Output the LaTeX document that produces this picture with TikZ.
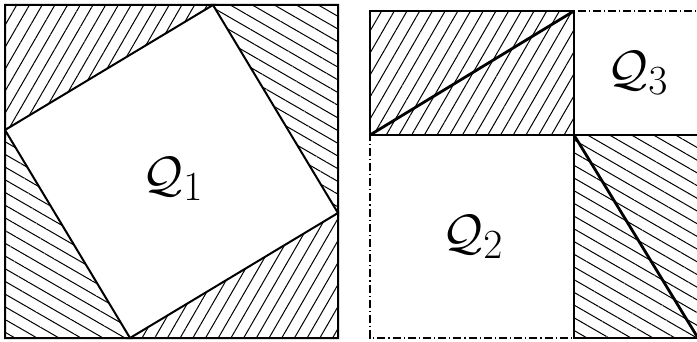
\documentclass[tikz,border=0pt]{standalone}
\usepackage{amsmath,amssymb}
\usetikzlibrary{patterns.meta}

\tikzset{
  hatchne/.style={pattern={Lines[angle=60,distance=5.5pt,line width=0.5pt]}},
  hatchnw/.style={pattern={Lines[angle=-30,distance=5.5pt,line width=0.5pt]}},
  dashdot/.style={line width=0.7pt, dash pattern=on 4pt off 1.5pt on 0.6pt off 1.5pt},
  solidedge/.style={line width=1pt, line join=miter},
  diagedge/.style={line width=1.4pt},
  qlabel/.style={font=\fontsize{28.5}{32}\selectfont},
}

\begin{document}
\begin{tikzpicture}[x=0.5pt,y=-0.5pt]
  \useasboundingbox (0,0) rectangle (697,342);
  % Left square: corners and the tilted square
  \coordinate (ltl) at (5,5);
  \coordinate (ltr) at (338,5);
  \coordinate (lbr) at (338,338);
  \coordinate (lbl) at (5,338);
  \coordinate (tL) at (5,130);
  \coordinate (tT) at (213,5);
  \coordinate (tR) at (338,213);
  \coordinate (tB) at (130,338);
  % Outer frame (dash-dot)
  \draw[dashdot] (ltl) rectangle (lbr);
  % Four hatched corner triangles
  \path[hatchne] (ltl) -- (tT) -- (tL) -- cycle;
  \path[hatchnw] (tT) -- (ltr) -- (tR) -- cycle;
  \path[hatchne] (tR) -- (lbr) -- (tB) -- cycle;
  \path[hatchnw] (tB) -- (lbl) -- (tL) -- cycle;
  \draw[solidedge] (ltl) -- (tT) -- (tL) -- cycle;
  \draw[solidedge] (tT) -- (ltr) -- (tR) -- cycle;
  \draw[solidedge] (tR) -- (lbr) -- (tB) -- cycle;
  \draw[solidedge] (tB) -- (lbl) -- (tL) -- cycle;
  % Label of the tilted square
  \node[qlabel] (q1) at (173,179) {$\mathcal{Q}_1$};

  % Right square: corners and the split point
  \coordinate (rtl) at (370,11);
  \coordinate (rtr) at (698,11);
  \coordinate (rbr) at (698,338);
  \coordinate (rbl) at (370,338);
  \coordinate (rm) at (574,135);
  % Outer frame (dash-dot)
  \draw[dashdot] (rtl) rectangle (rbr);
  % Hatched rectangles with their diagonals
  \path[hatchne] (rtl) rectangle (rm);
  \path[hatchnw] (rm) rectangle (rbr);
  \draw[solidedge] (rtl) rectangle (rm);
  \draw[solidedge] (rm) rectangle (rbr);
  \draw[diagedge] (rtl |- rm) -- (rm |- rtl);
  \draw[diagedge] (rm) -- (rbr);
  % Labels of the two squares
  \node[qlabel] (q2) at (473,237) {$\mathcal{Q}_2$};
  \node[qlabel] (q3) at (638,73) {$\mathcal{Q}_3$};
\end{tikzpicture}
\end{document}
